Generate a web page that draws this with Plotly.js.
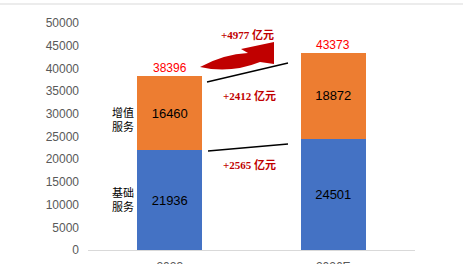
<!DOCTYPE html>
<html>
<head>
<meta charset="utf-8">
<script src="https://cdn.plot.ly/plotly-3.0.1.min.js"></script>
<style>html,body{margin:0;padding:0;background:#fff;}#chart{width:468px;height:264px;}</style>
</head>
<body>
<div id="chart"></div>
<script>
var categories = ['2023', '2026E'];
var basicService = [21936, 24501];
var valueAdded = [16460, 18872];
var totals = [38396, 43373];
var growthTexts = ['+4977 亿元', '+2412 亿元', '+2565 亿元'];
var seriesLabels = ['基础<br>服务', '增值<br>服务'];

var L = 88, R = 53, T = 23, B = 14, W = 468, H = 264;
var PW = W - L - R, PH = H - T - B;
function px(p) { return (p - L) / PW; }
function py(q) { return (H - B - q) / PH; }
function pt(p, q) { return px(p).toFixed(4) + ',' + py(q).toFixed(4); }

var txtFont = {family: 'Liberation Sans, Arial, sans-serif', size: 13, color: '#000'};

var traces = [
  {type: 'bar', x: categories, y: basicService, name: '基础服务',
   marker: {color: '#4472c4'}, text: basicService.map(String),
   textposition: 'inside', insidetextanchor: 'middle', textfont: txtFont, hoverinfo: 'none'},
  {type: 'bar', x: categories, y: valueAdded, name: '增值服务',
   marker: {color: '#ed7d31'}, text: valueAdded.map(String),
   textposition: 'inside', insidetextanchor: 'middle', textfont: txtFont, hoverinfo: 'none'}
];

var annotations = [];
categories.forEach(function (c, i) {
  annotations.push({x: i, y: totals[i], xref: 'x', yref: 'y', text: String(totals[i]),
    showarrow: false, xanchor: 'center', yanchor: 'bottom', yshift: -1,
    font: {family: 'Liberation Sans, Arial, sans-serif', size: 12, color: '#ff0000'}});
});
var growthPos = [[247, 34], [249, 96], [249, 164]];
growthTexts.forEach(function (t, i) {
  annotations.push({x: px(growthPos[i][0]), y: py(growthPos[i][1]), xref: 'paper', yref: 'paper',
    xanchor: 'center', yanchor: 'middle',
    text: '<b>' + t + '</b>', showarrow: false,
    font: {family: 'Liberation Serif, Noto Sans CJK SC, serif', size: 11, color: '#c00000'}});
});
var labelPos = [[135, 199], [135, 119]];
seriesLabels.forEach(function (t, i) {
  annotations.push({x: px(labelPos[i][0]), y: py(labelPos[i][1]), xref: 'paper', yref: 'paper',
    xanchor: 'right', yanchor: 'middle', borderpad: 0,
    text: t, showarrow: false,
    font: {family: 'Noto Sans CJK SC, sans-serif', size: 11, color: '#000'}});
});

var arrowPath = 'M' + pt(200, 67) + ' Q' + pt(224, 54) + ' ' + pt(248, 53) +
  ' L' + pt(241, 49) + ' L' + pt(274, 42) + ' L' + pt(274, 64) + ' L' + pt(260, 62) +
  ' Q' + pt(230, 74) + ' ' + pt(200, 67) + ' Z';

var shapes = [
  {type: 'line', xref: 'paper', yref: 'paper', x0: px(0), x1: px(463), y0: py(4), y1: py(4),
   line: {color: '#d9d9d9', width: 1}},
  {type: 'line', xref: 'paper', yref: 'paper', x0: px(207), y0: py(82), x1: px(288), y1: py(63),
   line: {color: '#000', width: 1.3}},
  {type: 'line', xref: 'paper', yref: 'paper', x0: px(208), y0: py(151), x1: px(288), y1: py(144),
   line: {color: '#000', width: 1.3}},
  {type: 'path', xref: 'paper', yref: 'paper', path: arrowPath,
   fillcolor: '#c00000', line: {width: 0}}
];

var layout = {
  width: W, height: H,
  margin: {l: L, r: R, t: T, b: B, pad: 0},
  paper_bgcolor: '#fff', plot_bgcolor: '#fff',
  barmode: 'stack', bargap: 0.6, showlegend: false,
  font: {family: 'Liberation Sans, Arial, sans-serif', size: 12, color: '#595959'},
  xaxis: {type: 'category', range: [-0.5, 1.5], showline: true, linecolor: '#d9d9d9',
    linewidth: 1, showgrid: false, zeroline: false, ticks: '',
    tickfont: {size: 12, color: '#595959'}, ticklabelstandoff: 6},
  yaxis: {range: [0, 50000], dtick: 5000, tickformat: 'd', showgrid: false, zeroline: false, showline: false,
    ticks: '', tickfont: {size: 12, color: '#595959'}, ticklabelstandoff: 8},
  annotations: annotations,
  shapes: shapes
};

Plotly.newPlot('chart', traces, layout, {staticPlot: true, displayModeBar: false});
</script>
</body>
</html>
